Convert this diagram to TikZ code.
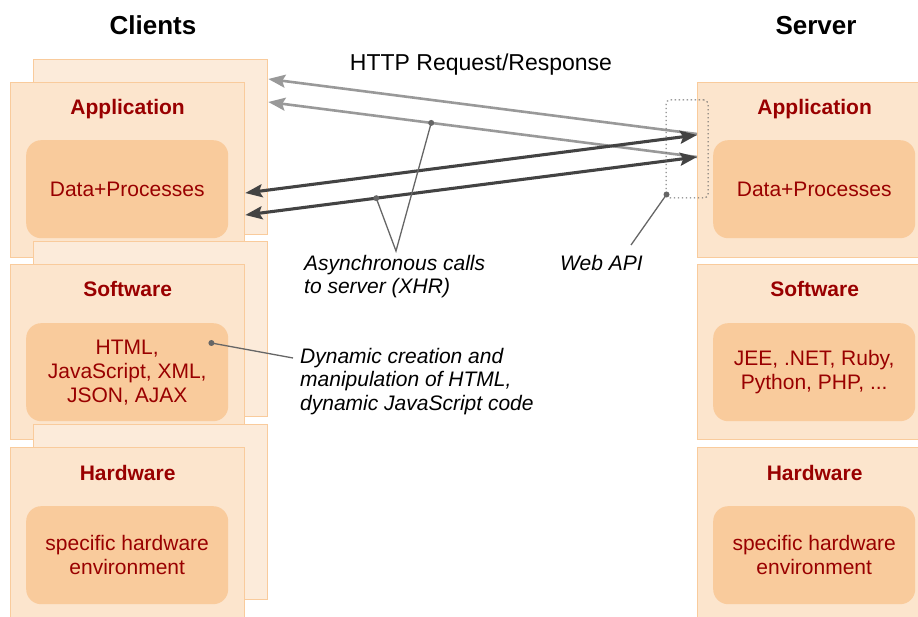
\documentclass[tikz,border=0pt]{standalone}
\usepackage{fontspec}
\setmainfont{Liberation Sans}
\usetikzlibrary{arrows.meta}

\definecolor{layerfill}{HTML}{FCE5CD}
\definecolor{layerghost}{HTML}{FCEBDA}
\definecolor{layerline}{HTML}{F9CB9C}
\definecolor{corefill}{HTML}{F9CB9C}
\definecolor{darkred}{HTML}{990000}
\definecolor{reqgray}{HTML}{999999}
\definecolor{respdark}{HTML}{434343}
\definecolor{notegray}{HTML}{666666}

\begin{document}
\begin{tikzpicture}[x=1pt,y=-1pt]
    \tikzstyle{layer}=[draw=layerline, fill=layerfill, line width=1.3pt, inner sep=0pt, anchor=north west, minimum width=234pt, minimum height=175pt]
    \tikzstyle{ghost}=[layer, fill=layerghost]
    \tikzstyle{core}=[fill=corefill, rounded corners=15pt, inner sep=0pt, anchor=north west, minimum width=202pt, minimum height=98pt, text=darkred, align=center, font=\fontsize{21}{24}\selectfont]
    \tikzstyle{ltitle}=[text=darkred, anchor=base, font=\fontsize{21}{24}\selectfont\bfseries]
    \tikzstyle{head}=[anchor=base, font=\fontsize{26}{30}\selectfont\bfseries]
    \tikzstyle{note}=[anchor=north west, inner sep=0pt, align=left, font=\fontsize{21}{23.5}\selectfont\itshape]
    \tikzstyle{req}=[reqgray, line width=2.6pt, -{Stealth[length=17pt,width=13pt,inset=3pt]}]
    \tikzstyle{resp}=[respdark, line width=3.1pt, {Stealth[length=17pt,width=13pt,inset=3pt]}-{Stealth[length=17pt,width=13pt,inset=3pt]}]
    \tikzstyle{pin}=[notegray, line width=1.3pt]
    \tikzstyle{pinhead}=[circle, fill=notegray, inner sep=0pt, minimum size=6pt]
    \def\clientx{10}
    \def\serverx{697}

    \useasboundingbox (0,0) rectangle (918,617);
    \clip (0,0) rectangle (918,617);

    \node[head] (clients) at (153,35) {Clients};
    \node[head] (server) at (816,35) {Server};

    % layer stacks, back copy only on the client side
    \foreach \lay/\ly/\ttl in {app/82/Application, sw/264/Software, hw/447/Hardware} {
        \node[ghost] (g\lay) at (\clientx+23,\ly-23) {};
        \node[layer] (c\lay) at (\clientx,\ly) {};
        \node[ltitle] at ([yshift=-33pt]c\lay.north) {\ttl};
        \node[layer] (s\lay) at (\serverx,\ly) {};
        \node[ltitle] at ([yshift=-33pt]s\lay.north) {\ttl};
    }

    \node[core] (capp-core) at ([xshift=16pt,yshift=-58pt]capp.north west) {Data+Processes};
    \node[core] (csw-core) at ([xshift=16pt,yshift=-59pt]csw.north west) {HTML,\\JavaScript, XML,\\JSON, AJAX};
    \node[core] (chw-core) at ([xshift=16pt,yshift=-59pt]chw.north west) {specific hardware\\environment};
    \node[core] (sapp-core) at ([xshift=16pt,yshift=-58pt]sapp.north west) {Data+Processes};
    \node[core] (ssw-core) at ([xshift=16pt,yshift=-59pt]ssw.north west) {JEE, .NET, Ruby,\\Python, PHP, ...};
    \node[core] (shw-core) at ([xshift=16pt,yshift=-59pt]shw.north west) {specific hardware\\environment};

    \node[anchor=base, font=\fontsize{23}{26}\selectfont] (http) at (481,71) {HTTP Request/Response};

    % requests and responses
    \draw[req] (sapp.west |- 0,134) -- (gapp.east |- 0,79);
    \draw[req] (sapp.west |- 0,157) -- coordinate[pos=0.62] (xhr-req) (gapp.east |- 0,102);
    \draw[resp] (capp.east |- 0,193) -- (sapp.west |- 0,135);
    \draw[resp] (capp.east |- 0,215) -- coordinate[pos=0.29] (xhr-resp) (sapp.west |- 0,157);

    \node[draw=notegray, dash pattern=on 1.3pt off 2.7pt, line width=1pt, rounded corners=4pt, minimum width=42pt, minimum height=98pt, inner sep=0pt] (api) at (687,149) {};

    % annotations
    \coordinate (xhr-pin) at (396,251);
    \draw[pin] (xhr-req) -- (xhr-pin) -- (xhr-resp);
    \node[pinhead] at (xhr-req) {};
    \node[pinhead] at (xhr-resp) {};
    \node[note] (xhr) at (304,255) {Asynchronous calls\\to server (XHR)};

    \coordinate (api-dot) at ([shift={(1pt,4pt)}]api.south west);
    \coordinate (api-pin) at (631,245);
    \draw[pin] (api-dot) -- (api-pin);
    \node[pinhead] at (api-dot) {};
    \node[note] (api-note) at (560,255) {Web API};

    \coordinate (dyn-dot) at ([shift={(-17pt,-20pt)}]csw-core.north east);
    \coordinate (dyn-pin) at (293,358);
    \draw[pin] (dyn-dot) -- (dyn-pin);
    \node[pinhead] at (dyn-dot) {};
    \node[note] (dyn) at (300,348) {Dynamic creation and\\manipulation of HTML,\\dynamic JavaScript code};
\end{tikzpicture}
\end{document}
